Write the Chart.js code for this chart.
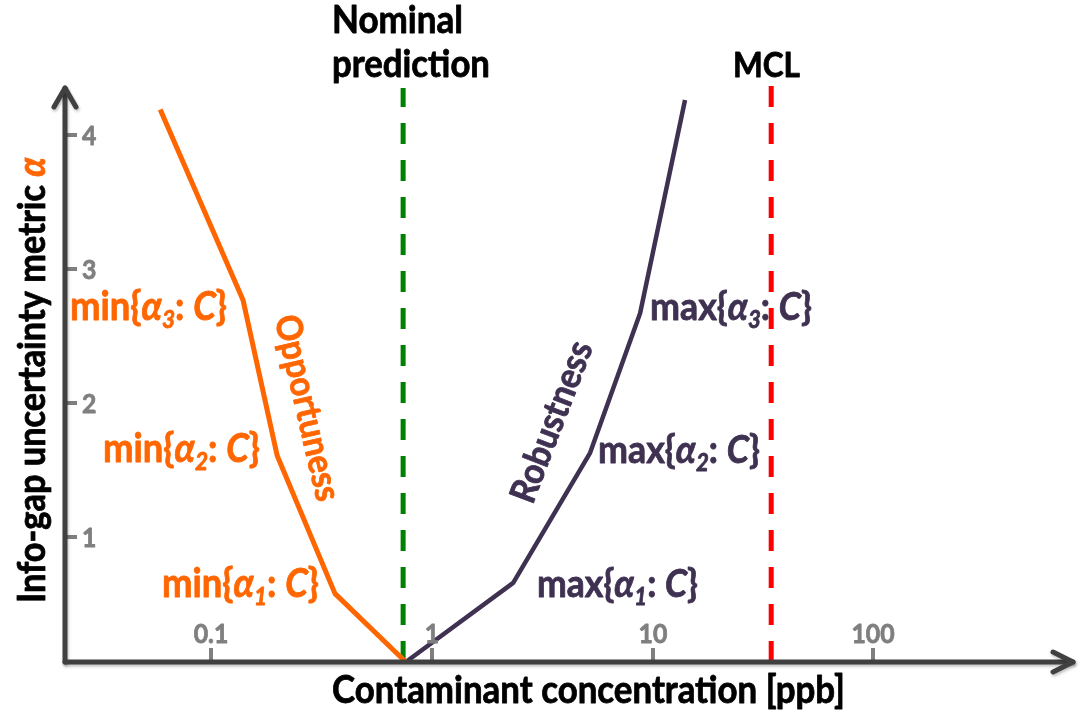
<!DOCTYPE html>
<html><head><meta charset="utf-8">
<script src="https://cdn.jsdelivr.net/npm/chart.js@4"></script>
<style>html,body{margin:0;padding:0;background:#fff;}#wrap{width:1080px;height:714px;position:relative;}</style>
</head><body><div id="wrap"><canvas id="c" width="1080" height="714"></canvas></div>
<script>
// ---- data ----
const xTickValues = [0.1, 1, 10, 100];
const xTickLabels = ['0.1', '1', '10', '100'];
const yTickValues = [1, 2, 3, 4];
const yTickLabels = ['1', '2', '3', '4'];
const opportunenessX = [0.0586, 0.139, 0.1985, 0.363, 0.76];
const opportunenessY = [4.19, 2.77, 1.61, 0.58, 0.07];
const robustnessX = [0.76, 2.33, 5.2, 8.76, 14.0];
const robustnessY = [0.07, 0.66, 1.63, 2.67, 4.26];
const nominalX = [0.739, 0.739];
const nominalY = [0.07, 4.35];
const mclX = [34.4, 34.4];
const mclY = [0.07, 4.37];

const ORANGE = '#FF6600', PURPLE = '#3F3151', AXIS = '#404040', TICK = '#7F7F7F';
const SQ = 0.92; // horizontal squeeze so Lato approximates Calibri proportions
const EMB = 0.8; // faux-bold stroke width

function pts(xs, ys) { return xs.map((x, i) => ({ x: x, y: ys[i] })); }

function fontFor(p, size) {
  const s = p.sub ? size * 0.62 : size;
  return (p.it ? 'italic ' : '') + 'bold ' + s.toFixed(2) + 'px Lato';
}
function richWidth(ctx, parts, size) {
  let w = 0;
  for (const p of parts) { ctx.font = fontFor(p, size); w += ctx.measureText(p.t).width; }
  return w;
}
function fillBold(ctx, text, x, y, color) {
  ctx.fillStyle = color; ctx.strokeStyle = color; ctx.lineWidth = EMB; ctx.lineJoin = 'round';
  ctx.fillText(text, x, y);
  ctx.strokeText(text, x, y);
}
function drawRich(ctx, parts, x, y, targetW, color) {
  const size = 100 * (targetW / SQ) / richWidth(ctx, parts, 100);
  ctx.save();
  ctx.translate(x, y);
  ctx.scale(SQ, 1);
  let cx = 0;
  ctx.textAlign = 'left';
  ctx.textBaseline = 'alphabetic';
  for (const p of parts) {
    ctx.font = fontFor(p, size);
    fillBold(ctx, p.t, cx, p.sub ? size * 0.2 : 0, p.color || color);
    cx += ctx.measureText(p.t).width;
  }
  ctx.restore();
}
function drawCentered(ctx, text, w, color) {
  ctx.font = 'bold 100px Lato';
  const size = 100 * (w / SQ) / ctx.measureText(text).width;
  ctx.save();
  ctx.scale(SQ, 1);
  ctx.font = 'bold ' + size.toFixed(2) + 'px Lato';
  ctx.textAlign = 'center'; ctx.textBaseline = 'middle';
  fillBold(ctx, text, 0, 0, color);
  ctx.restore();
}
function label(prefix, n) {
  return [{ t: prefix + '{' }, { t: 'α', it: true }, { t: String(n), it: true, sub: true }, { t: ': ' }, { t: 'C', it: true }, { t: '}' }];
}

const decor = {
  id: 'decor',
  afterDraw(chart) {
    const ctx = chart.ctx;
    const xs = chart.scales.x, ys = chart.scales.y;
    const ca = chart.chartArea;
    const x0 = ca.left, yb = ca.bottom;
    ctx.save();
    // tick stubs and tick labels from the scales
    ctx.lineCap = 'butt';
    ctx.font = 'bold 27px Lato';
    ctx.textAlign = 'center'; ctx.textBaseline = 'middle';
    xs.ticks.forEach(t => {
      const px = Math.round(xs.getPixelForValue(t.value));
      ctx.strokeStyle = TICK; ctx.lineWidth = 4;
      ctx.beginPath(); ctx.moveTo(px, yb); ctx.lineTo(px, yb - 14); ctx.stroke();
      ctx.save(); ctx.translate(px, yb - 28); ctx.scale(SQ, 1);
      fillBold(ctx, xTickLabels[xTickValues.indexOf(t.value)], 0, 0, TICK);
      ctx.restore();
    });
    ctx.textAlign = 'left';
    ys.ticks.forEach(t => {
      const py = Math.round(ys.getPixelForValue(t.value));
      ctx.strokeStyle = TICK; ctx.lineWidth = 4;
      ctx.beginPath(); ctx.moveTo(x0, py); ctx.lineTo(x0 + 12, py); ctx.stroke();
      ctx.save(); ctx.translate(x0 + 17, py + 1); ctx.scale(SQ, 1);
      fillBold(ctx, yTickLabels[yTickValues.indexOf(t.value)], 0, 0, TICK);
      ctx.restore();
    });
    // axes with arrows
    ctx.strokeStyle = AXIS; ctx.lineWidth = 5; ctx.lineCap = 'round'; ctx.lineJoin = 'round';
    ctx.shadowColor = 'rgba(0,0,0,0.25)'; ctx.shadowBlur = 3; ctx.shadowOffsetX = 1; ctx.shadowOffsetY = 2;
    ctx.beginPath(); ctx.moveTo(x0, yb); ctx.lineTo(x0, ca.top); ctx.stroke();
    ctx.beginPath(); ctx.moveTo(x0 - 11, ca.top + 19); ctx.lineTo(x0, ca.top); ctx.lineTo(x0 + 11, ca.top + 19); ctx.stroke();
    ctx.beginPath(); ctx.moveTo(x0, yb); ctx.lineTo(ca.right, yb); ctx.stroke();
    ctx.beginPath(); ctx.moveTo(ca.right - 20, yb - 10); ctx.lineTo(ca.right, yb); ctx.lineTo(ca.right - 20, yb + 10); ctx.stroke();
    ctx.shadowColor = 'transparent';
    // axis titles
    drawRich(ctx, [{ t: 'Contaminant concentration [ppb]' }], 332, 703, 513, '#000');
    ctx.save();
    ctx.translate(45, 603); ctx.rotate(-Math.PI / 2);
    drawRich(ctx, [{ t: 'Info-gap uncertainty metric ' }, { t: 'α', it: true, color: ORANGE }], 0, 0, 446, '#000');
    ctx.restore();
    // headers
    drawRich(ctx, [{ t: 'Nominal' }], 332, 33, 131, '#000');
    drawRich(ctx, [{ t: 'prediction' }], 332, 77, 158, '#000');
    drawRich(ctx, [{ t: 'MCL' }], 733, 77, 67, '#000');
    // orange labels
    drawRich(ctx, label('min', 3), 70, 320, 157, ORANGE);
    drawRich(ctx, label('min', 2), 103, 462, 157, ORANGE);
    drawRich(ctx, label('min', 1), 162, 597, 157, ORANGE);
    // purple labels
    drawRich(ctx, label('max', 3), 650, 320, 162, PURPLE);
    drawRich(ctx, label('max', 2), 598, 463, 162, PURPLE);
    drawRich(ctx, label('max', 1), 537, 597, 161, PURPLE);
    // curve names
    ctx.save();
    ctx.translate(307, 408); ctx.rotate(77 * Math.PI / 180);
    drawCentered(ctx, 'Opportuness', 190, ORANGE);
    ctx.restore();
    ctx.save();
    ctx.translate(552, 422); ctx.rotate(-69 * Math.PI / 180);
    drawCentered(ctx, 'Robustness', 170, PURPLE);
    ctx.restore();
    ctx.restore();
  }
};

function build() {
  const ctx = document.getElementById('c').getContext('2d');
  new Chart(ctx, {
    type: 'line',
    data: {
      datasets: [
        { data: pts(opportunenessX, opportunenessY), borderColor: ORANGE, borderWidth: 5, pointRadius: 0, tension: 0, clip: false, borderJoinStyle: 'round' },
        { data: pts(robustnessX, robustnessY), borderColor: PURPLE, borderWidth: 4.5, pointRadius: 0, tension: 0, clip: false, borderJoinStyle: 'round' },
        { data: pts(nominalX, nominalY), borderColor: '#008000', borderWidth: 5, borderDash: [21, 16], pointRadius: 0, clip: false },
        { data: pts(mclX, mclY), borderColor: '#FF0000', borderWidth: 5, borderDash: [21, 16], pointRadius: 0, clip: false }
      ]
    },
    options: {
      responsive: false, animation: false, devicePixelRatio: 1,
      layout: { padding: { left: 65, top: 88, right: 7, bottom: 52 } },
      plugins: { legend: { display: false }, tooltip: { enabled: false } },
      scales: {
        x: {
          type: 'logarithmic', min: 0.0217, max: 802,
          afterBuildTicks: s => { s.ticks = xTickValues.map(v => ({ value: v })); },
          afterFit: s => { s.height = 0; },
          grid: { display: false, drawTicks: false }, border: { display: false },
          ticks: { display: false }
        },
        y: {
          type: 'linear', min: 0.07, max: 4.35,
          afterBuildTicks: s => { s.ticks = yTickValues.map(v => ({ value: v })); },
          afterFit: s => { s.width = 0; },
          grid: { display: false, drawTicks: false }, border: { display: false },
          ticks: { display: false }
        }
      }
    },
    plugins: [decor]
  });
}
Promise.all([
  document.fonts.load('bold 20px Lato'),
  document.fonts.load('italic bold 20px Lato')
]).then(build, build);
</script>
</body></html>
